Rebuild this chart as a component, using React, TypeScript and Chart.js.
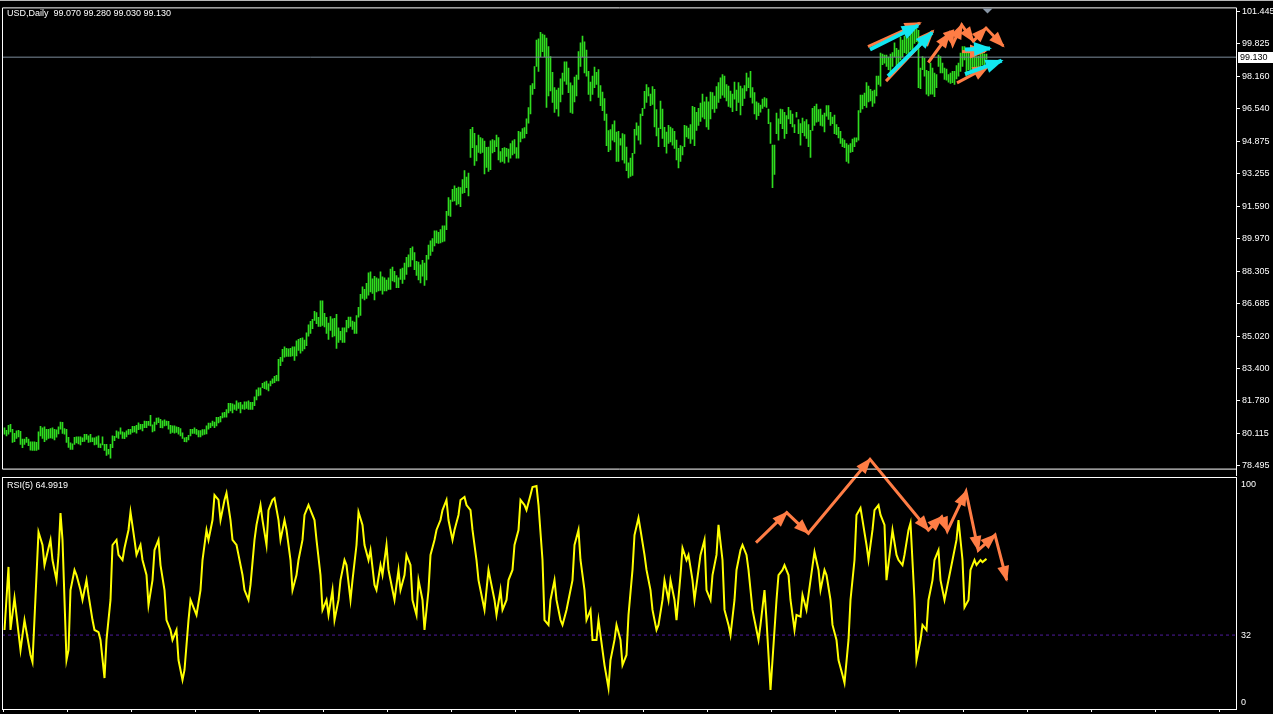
import React, { useEffect, useRef } from "react";
import { Chart, registerables } from "chart.js";

Chart.register(...registerables);

const symbolTitle = "USD,Daily  99.070 99.280 99.030 99.130";
const rsiTitle = "RSI(5) 64.9919";
const priceTicks = [101.445, 99.825, 98.16, 96.54, 94.875, 93.255, 91.59, 89.97, 88.305, 86.685, 85.02, 83.4, 81.78, 80.115, 78.495];
const rsiTicks = [100, 32, 0];
const rsiLevel = 32;
const lastPrice = 99.13;

const barHighs = [
  80.40,80.28,80.53,80.58,80.33,80.12,80.25,80.28,80.23,79.84,
  79.84,79.92,79.84,79.70,79.70,79.70,79.67,80.20,80.48,80.40,
  80.45,80.33,80.33,80.37,80.40,80.33,80.30,80.45,80.70,80.68,
  80.37,80.33,79.93,79.64,79.59,79.92,79.95,79.95,79.95,79.90,
  80.08,80.08,80.00,80.07,79.90,79.90,79.95,80.00,79.60,79.95,
  79.57,79.57,79.32,79.57,80.00,79.98,80.25,80.20,80.40,80.20,
  80.17,80.25,80.33,80.33,80.48,80.48,80.53,80.66,80.58,80.58,
  80.75,80.73,80.73,81.03,80.56,80.70,80.89,80.91,80.83,80.76,
  80.81,80.75,80.73,80.53,80.50,80.50,80.45,80.43,80.37,80.15,
  79.90,79.93,80.03,80.33,80.33,80.40,80.33,80.27,80.27,80.31,
  80.31,80.50,80.65,80.65,80.75,80.70,80.93,80.94,80.98,81.16,
  81.19,81.33,81.64,81.64,81.61,81.57,81.77,81.67,81.69,81.57,
  81.72,81.72,81.77,81.69,81.69,81.97,82.32,82.43,82.43,82.65,
  82.72,82.77,82.63,82.77,82.88,83.01,83.06,83.87,83.97,84.37,
  84.50,84.42,84.40,84.42,84.50,84.50,84.80,84.87,84.92,84.95,
  84.84,85.20,85.61,85.78,85.89,86.29,86.23,85.99,86.82,86.82,
  86.19,85.99,85.70,86.03,
  85.91,85.94,86.14,85.45,85.28,85.45,85.45,85.83,86.00,86.00,
  85.80,85.75,86.08,86.49,87.15,87.53,87.40,87.70,88.23,88.28,
  87.93,88.06,87.98,87.93,88.28,88.03,87.98,87.87,87.98,88.43,
  88.53,88.31,88.10,87.98,88.43,88.48,88.73,89.02,89.14,89.47,
  89.55,89.26,88.81,88.78,88.64,88.86,88.73,89.12,89.64,89.85,
  89.97,90.35,90.35,90.28,90.42,90.61,90.61,91.34,92.04,91.91,
  92.45,92.63,92.50,92.57,92.54,92.95,93.40,93.07,93.28,95.48,
  95.58,95.28,94.66,95.19,95.07,95.02,94.89,94.57,94.59,94.90,
  94.97,94.92,95.19,95.07,94.36,94.52,94.56,94.52,94.49,94.77,
  94.90,94.97,94.56,95.38,95.35,95.52,95.57,96.01,96.58,97.70,
  97.80,98.66,99.99,100.05,100.39,100.29,100.25,100.09,99.66,99.16,
  98.36,97.59,97.47,97.57,98.03,98.33,98.89,98.89,98.58,97.83,
  97.70,98.13,98.22,99.41,99.86,100.19,99.90,99.49,98.41,97.87,
  98.17,98.63,98.36,98.50,97.70,97.37,97.04,96.26,95.42,95.47,
  95.72,95.91,95.35,95.38,95.02,95.27,95.22,94.59,93.79,94.03,
  94.27,95.48,95.81,95.65,96.26,96.54,97.40,97.75,97.59,97.26,
  97.64,97.50,96.48,95.55,96.91,
  96.51,95.58,95.35,95.68,95.60,95.52,95.38,94.94,94.52,94.66,
  94.61,95.68,95.65,95.55,95.72,96.64,96.59,96.34,96.54,96.81,
  97.27,96.87,97.11,96.87,97.37,97.34,97.17,97.64,97.84,98.08,
  98.25,98.17,97.75,97.67,97.42,97.26,97.87,97.47,97.84,97.67,
  97.54,97.70,98.33,98.08,98.41,97.59,97.34,96.87,96.81,96.71,
  97.01,97.09,97.04,96.51,95.82,94.69,94.69,96.31,96.01,96.51,
  96.48,96.34,96.18,96.59,96.43,96.26,95.72,96.34,95.98,95.77,
  96.05,95.88,95.98,95.72,95.43,96.54,96.64,96.76,96.48,96.51,
  96.21,96.31,96.68,96.68,96.34,96.10,96.21,95.72,95.58,95.38,
  95.02,94.94,94.77,94.69,94.77,94.99,95.05,95.05,96.43,97.21,
  97.21,97.31,97.84,97.67,97.50,97.42,97.47,98.17,98.17,99.33,
  99.29,99.24,99.24,99.13,99.29,99.36,99.85,99.57,99.49,100.15,
  99.99,100.19,100.15,100.12,100.32,100.40,100.48,100.57,100.48,98.58,
  99.16,99.08,98.46,98.41,98.83,98.58,98.33,98.25,99.24,99.16,
  98.83,98.58,98.53,98.25,98.33,98.41,98.41,98.70,98.83,99.33,
  99.66,99.66,99.57,99.33,99.41,99.24,99.29,99.16,99.19,99.33,
  99.33,99.29,99.28,
];

const barLows = [
  80.08,80.00,80.08,80.20,79.67,79.70,79.87,79.95,79.57,79.40,
  79.57,79.67,79.50,79.27,79.26,79.26,79.26,79.31,80.00,79.87,
  79.70,79.79,79.87,79.90,79.87,79.79,79.93,80.10,80.33,80.12,
  80.08,79.67,79.42,79.31,79.31,79.57,79.64,79.59,79.54,79.70,
  79.72,79.82,79.67,79.69,79.70,79.54,79.57,79.42,79.40,79.54,
  79.26,79.01,79.07,78.87,79.40,79.75,79.92,79.87,80.08,79.87,
  79.85,79.95,80.07,80.08,80.17,80.20,80.13,80.31,80.33,80.25,
  80.41,80.41,80.53,80.50,80.20,80.25,80.58,80.66,80.41,80.40,
  80.50,80.53,80.33,80.12,80.17,80.13,80.17,80.08,80.00,79.87,
  79.70,79.69,79.79,80.00,80.12,80.12,80.07,79.95,79.95,80.03,
  80.07,80.10,80.33,80.41,80.50,80.41,80.50,80.65,80.70,80.91,
  80.94,80.94,81.16,81.26,81.16,81.33,81.28,81.39,81.16,81.36,
  81.33,81.38,81.34,81.33,81.33,81.52,81.82,82.02,82.05,82.43,
  82.38,82.35,82.27,82.52,82.65,82.68,82.77,82.77,83.54,83.76,
  83.97,84.01,84.01,84.01,84.04,83.81,84.04,84.31,84.17,84.29,
  84.39,84.55,85.03,85.17,85.41,85.83,85.66,85.53,85.53,85.58,
  85.50,85.17,84.87,85.33,
  85.00,85.05,84.42,84.72,84.84,84.72,84.72,85.25,85.45,85.53,
  85.38,85.17,85.17,86.00,86.08,86.94,86.87,86.94,87.10,87.27,
  87.20,86.87,87.27,87.32,87.35,87.15,87.32,87.32,87.40,87.40,
  87.82,87.77,87.48,87.48,87.90,87.70,87.90,88.15,88.53,88.56,
  88.89,88.40,88.10,87.87,87.73,88.06,87.60,87.87,88.93,89.11,
  89.31,89.59,89.75,89.72,89.75,89.79,89.84,90.42,91.13,91.08,
  91.84,91.87,91.67,91.71,91.58,92.24,92.29,92.54,92.12,94.06,
  94.56,93.66,93.89,94.32,94.27,94.32,93.23,93.56,93.36,93.45,
  94.29,94.36,94.61,93.94,93.83,93.86,93.78,94.11,93.83,94.03,
  94.19,94.27,94.03,94.03,94.85,95.02,95.05,95.27,95.80,96.26,
  97.25,97.54,98.66,98.41,99.16,99.41,99.16,96.59,97.17,97.42,
  96.84,96.34,96.51,96.15,96.87,97.25,97.92,97.75,97.34,96.34,
  96.29,96.87,97.17,98.00,98.66,99.16,98.33,98.17,97.25,96.92,
  97.25,97.59,97.75,97.09,96.68,96.43,95.93,94.66,94.36,94.44,
  94.94,94.85,93.86,93.86,94.69,93.94,93.78,93.40,93.03,93.11,
  93.16,94.27,95.19,94.94,94.74,96.18,96.54,96.84,97.17,96.68,
  96.74,95.60,95.15,94.61,95.52,
  95.02,94.61,94.28,94.77,94.85,94.69,94.52,93.94,93.53,93.86,
  94.19,94.61,95.10,95.02,94.77,94.99,94.66,95.43,95.68,95.88,
  96.10,96.01,95.60,95.48,96.01,96.51,96.34,96.54,96.84,97.04,
  97.21,97.09,96.92,96.64,96.59,96.38,97.01,96.43,96.84,96.21,
  96.68,97.04,97.42,97.59,97.09,96.81,96.26,95.98,96.18,96.35,
  96.54,96.64,96.59,95.77,94.77,92.54,93.20,95.27,94.94,95.77,
  95.52,95.02,95.27,96.01,95.77,95.60,95.32,96.10,95.27,94.69,
  95.32,95.15,95.02,94.61,94.06,95.43,95.68,95.85,95.88,95.68,
  95.65,95.35,96.15,95.98,95.68,95.77,95.27,95.22,95.05,94.77,
  94.61,94.56,93.86,93.78,94.32,94.36,94.61,94.85,94.94,96.34,
  96.51,96.68,96.59,96.87,96.92,96.64,96.81,97.17,97.75,97.67,
  98.75,98.83,98.66,98.50,98.41,98.66,99.16,98.58,98.75,98.99,
  99.16,99.36,99.29,99.33,99.49,99.49,99.82,99.91,97.59,97.54,
  98.50,98.17,97.26,97.17,97.26,97.26,97.14,97.59,98.66,98.33,
  98.33,98.00,97.97,97.87,97.80,97.84,97.75,98.03,98.17,98.41,
  98.66,98.99,98.17,98.50,98.50,98.41,98.58,98.41,98.50,98.66,
  98.75,98.66,99.03,
];

// RSI(5) readings: bar index and value
const rsiBar = [
  0,2,3,5,8,10,13,14,17,19,
  20,22,23,24,26,27,28,29,31,32,
  33,35,36,38,39,41,42,44,45,47,
  48,50,51,53,54,56,57,59,60,62,
  63,65,66,68,69,71,72,74,75,77,
  78,80,81,83,84,86,87,89,90,92,
  93,95,96,98,99,101,102,104,105,107,
  108,110,111,113,114,116,117,119,120,122,
  123,125,126,128,129,131,132,134,135,137,
  138,140,141,143,144,146,147,149,150,152,
  153,155,156,158,159,161,162,164,165,167,
  168,170,171,173,174,176,177,179,180,182,
  183,185,186,188,189,191,192,194,195,197,
  198,200,201,203,204,206,207,209,210,212,
  213,215,216,218,219,221,222,224,225,227,
  228,230,231,233,234,236,237,239,240,242,
  243,245,246,248,249,251,252,254,255,257,
  258,260,261,263,264,266,267,269,270,272,
  273,275,276,278,279,281,282,284,285,287,
  288,290,291,293,294,296,297,299,300,302,
  303,305,306,308,309,311,312,314,315,317,
  318,320,321,323,324,326,327,329,330,332,
  333,335,336,338,339,341,342,344,345,347,
  348,350,351,353,354,356,357,359,360,362,
  363,365,366,368,369,371,372,374,375,377,
  378,380,381,383,384,386,387,389,390,392,
  393,395,396,398,399,401,402,404,405,407,
  408,410,411,413,414,416,417,419,420,422,
  423,425,426,428,429,431,432,434,435,437,
  438,440,441,443,444,446,447,449,450,452,
  453,455,456,458,459,461,462,464,465,467,
  468,470,471,473,474,476,477,479,480,482,
  483,485,486,488,489,491,
];
const rsiVal = [
  34.2,61.5,34.2,48.1,25.5,38.5,23.4,20.3,76.6,71.0,
  62.3,69.7,73.2,64.5,55.8,66.7,84.8,73.2,21.2,25.5,
  51.5,60.2,58.0,51.5,47.2,55.8,49.4,38.5,34.2,33.3,
  29.9,13.4,29.9,47.2,71.0,73.2,66.7,64.5,69.7,77.5,
  85.3,73.2,66.7,71.0,64.5,58.0,45.0,55.8,68.8,73.2,
  62.3,51.5,38.5,34.2,29.9,34.2,21.2,12.6,16.9,38.5,
  47.2,42.9,40.7,51.5,64.5,77.5,73.2,81.8,92.6,90.5,
  81.8,90.5,93.5,81.8,73.2,71.0,66.7,58.0,51.5,47.2,
  53.7,73.2,79.7,88.3,81.8,71.0,86.1,90.5,91.3,81.8,
  73.2,81.8,77.5,64.5,51.5,58.0,64.5,73.2,84.0,88.3,
  86.1,81.8,73.2,58.0,42.9,47.2,40.7,51.5,38.5,47.2,
  55.8,64.5,62.3,47.2,55.8,71.0,85.3,79.7,71.0,64.5,
  68.8,53.7,51.5,62.3,58.0,71.0,60.2,51.5,47.2,60.2,
  51.5,58.0,66.7,62.3,47.2,40.7,55.8,47.2,34.2,51.5,
  66.7,73.2,77.5,81.8,86.1,90.5,81.8,73.2,77.5,84.0,
  90.5,91.8,88.3,86.1,77.5,64.5,55.8,47.2,42.9,60.2,
  55.8,47.2,40.7,51.5,42.9,47.2,55.8,60.2,71.0,77.5,
  90.5,88.3,86.1,92.6,96.1,96.5,88.3,64.5,38.5,36.4,
  47.2,55.8,47.2,38.5,36.4,42.9,47.2,55.8,71.0,77.5,
  64.5,51.5,38.5,42.9,29.9,29.9,38.5,25.5,19.0,9.1,
  21.2,29.9,36.4,29.9,19.0,23.4,40.7,60.2,75.3,82.7,
  77.5,66.7,60.2,51.5,42.9,34.2,36.4,47.2,55.8,47.2,
  55.8,47.2,38.5,58.0,69.7,64.5,66.7,55.8,47.2,60.2,
  66.7,73.2,51.5,47.2,58.0,66.7,79.7,64.5,42.9,36.4,
  32.0,47.2,60.2,68.8,71.0,66.7,60.2,42.9,38.5,29.9,
  36.4,51.5,38.5,8.2,21.2,47.2,58.0,60.2,62.3,58.0,
  47.2,34.2,40.7,40.0,49.4,42.9,49.4,62.0,68.0,60.2,
  51.5,60.2,58.0,47.2,36.4,29.9,21.2,14.7,11.3,29.9,
  47.2,64.5,84.0,87.0,81.8,71.0,64.5,77.5,86.1,88.3,
  84.0,79.7,55.8,70.0,77.5,66.7,64.5,62.3,66.7,77.5,
  80.5,47.2,21.2,29.9,36.4,34.2,47.2,55.8,64.5,68.8,
  55.8,47.2,51.5,60.2,64.5,73.2,81.8,64.5,44.0,47.2,
  60.2,64.5,62.3,64.5,63.6,65.0,
];

// Annotation arrows (bar index, price) on the price panel
const topZigIdx = [461.9, 472.4, 474.1, 478.6, 484.4, 490.75, 499.4];
const topZigPrice = [98.86, 100.32, 99.77, 100.76, 99.94, 100.6, 99.69];
const orangeArrowIdx = [[431.75, 457.75], [440.75, 464.25], [478.75, 490.25], [476.25, 491.75]];
const orangeArrowPrice = [[99.66, 100.85], [97.92, 100.45], [99.41, 99.41], [97.83, 98.66]];
const cyanArrowIdx = [[432.75, 456.75], [441.75, 463.75], [480.25, 492.75], [480.25, 498.6]];
const cyanArrowPrice = [[99.52, 100.73], [98.17, 100.37], [99.52, 99.57], [98.27, 98.95]];
// Annotation arrows (bar index, RSI) on the RSI panel
const rsiZigIdx = [375.75, 391.1, 401.9, 432.75, 461.9, 468.6, 471.4, 480.75, 486.9, 495.25, 501.1];
const rsiZigVal = [72.0, 85.0, 76.1, 108.1, 77.5, 83.2, 77.1, 94.1, 68.8, 75.3, 55.8];

const X_MIN = -1.25;
const X_MAX = 615.75;
const xTickValues = Array.from({ length: 20 }, (_, k) => -0.5 + 32 * k);

const GREEN = "#2fdc1f";
const ORANGE = "#ff7d45";
const CYAN = "#12e6f0";
const YELLOW = "#ffff00";
const SLATE = "#7d8c9c";
const LEVEL = "#4e1a9e";
const FONT = '9px "Liberation Sans", Arial, sans-serif';

const arrowHeadPlugin = {
  id: "arrowHeads",
  afterDatasetDraw(chart: any, args: any) {
    const ds: any = chart.data.datasets[args.index];
    if (!ds.arrowHead) return;
    const pts = args.meta.data;
    const ctx = chart.ctx;
    const L = ds.arrowHead.len;
    const H = ds.arrowHead.half;
    ctx.save();
    ctx.fillStyle = ds.borderColor;
    for (let j = 1; j < pts.length; j++) {
      const p0 = pts[j - 1];
      const p1 = pts[j];
      const a = Math.atan2(p1.y - p0.y, p1.x - p0.x);
      const c = Math.cos(a);
      const s = Math.sin(a);
      ctx.beginPath();
      ctx.moveTo(p1.x + c * 2, p1.y + s * 2);
      ctx.lineTo(p1.x - c * L - s * H, p1.y - s * L + c * H);
      ctx.lineTo(p1.x - c * L + s * H, p1.y - s * L - c * H);
      ctx.closePath();
      ctx.fill();
    }
    ctx.restore();
  },
};

const topDecor = {
  id: "topDecor",
  afterDraw(chart: any) {
    const { ctx, chartArea: a, scales } = chart;
    ctx.save();
    ctx.fillStyle = "#b8b8b8";
    ctx.fillRect(0, 0, chart.width, 1);
    ctx.strokeStyle = "#ffffff";
    ctx.lineWidth = 1;
    ctx.beginPath();
    ctx.moveTo(a.left + 0.5, a.bottom + 0.5);
    ctx.lineTo(a.left + 0.5, a.top + 0.5);
    ctx.lineTo(a.right + 0.5, a.top + 0.5);
    ctx.lineTo(a.right + 0.5, chart.height);
    ctx.moveTo(a.left + 0.5, a.bottom + 0.5);
    ctx.lineTo(a.right + 0.5, a.bottom + 0.5);
    ctx.stroke();
    ctx.font = FONT;
    ctx.textBaseline = "middle";
    ctx.textAlign = "left";
    ctx.fillStyle = "#ffffff";
    ctx.fillText(symbolTitle, 7, 14);
    const py = Math.round(scales.y.getPixelForValue(lastPrice));
    ctx.fillStyle = "#ffffff";
    ctx.fillRect(a.right + 2, py - 5, 35, 11);
    ctx.fillStyle = "#000000";
    ctx.fillText(lastPrice.toFixed(3), a.right + 4, py + 0.5);
    const tx = scales.x.getPixelForValue(barHighs.length - 1) + 1;
    ctx.fillStyle = "#8896a6";
    ctx.beginPath();
    ctx.moveTo(tx - 5, a.top + 1);
    ctx.lineTo(tx + 5, a.top + 1);
    ctx.lineTo(tx, a.top + 6);
    ctx.closePath();
    ctx.fill();
    ctx.restore();
  },
};

const botDecor = {
  id: "botDecor",
  afterDraw(chart: any) {
    const { ctx, chartArea: a, scales } = chart;
    ctx.save();
    ctx.strokeStyle = "#ffffff";
    ctx.lineWidth = 1;
    ctx.strokeRect(a.left + 0.5, a.top - 0.5, a.right - a.left, a.bottom - a.top + 1);
    ctx.font = FONT;
    ctx.textBaseline = "middle";
    ctx.textAlign = "left";
    ctx.fillStyle = "#ffffff";
    ctx.fillText(rsiTitle, 7, a.top + 8);
    rsiTicks.forEach((v) => {
      let y = scales.y.getPixelForValue(v);
      y = Math.min(Math.max(y, a.top + 6), a.bottom - 7);
      ctx.fillText(String(v), a.right + 5, y + 0.5);
    });
    ctx.restore();
  },
};

function lineDs(xs: number[], ys: number[], color: string, width: number, order: number, head?: any) {
  return {
    type: "line" as const,
    data: xs.map((x, k) => ({ x, y: ys[k] })),
    borderColor: color,
    backgroundColor: color,
    borderWidth: width,
    pointRadius: 0,
    fill: false,
    tension: 0,
    clip: false as any,
    order,
    arrowHead: head,
  };
}

export default function App() {
  const topRef = useRef<HTMLCanvasElement>(null);
  const botRef = useRef<HTMLCanvasElement>(null);

  useEffect(() => {
    const bars = barHighs.map((h, i) => ({ x: i, y: [barLows[i], h] }));
    const topDatasets: any[] = [
      {
        type: "bar",
        data: bars,
        backgroundColor: GREEN,
        borderWidth: 0,
        barThickness: 1,
        grouped: false,
        order: 10,
      },
      lineDs([X_MIN, X_MAX], [lastPrice, lastPrice], SLATE, 1, 9),
    ];
    orangeArrowIdx.forEach((xs, k) => topDatasets.push(lineDs(xs, orangeArrowPrice[k], ORANGE, 3, 4, { len: 15, half: 7 })));
    topDatasets.push(lineDs(topZigIdx, topZigPrice, ORANGE, 3, 3, { len: 14, half: 6 }));
    cyanArrowIdx.forEach((xs, k) => topDatasets.push(lineDs(xs, cyanArrowPrice[k], CYAN, 4, 2, { len: 16, half: 7 })));

    const top = new Chart(topRef.current as HTMLCanvasElement, {
      type: "bar",
      data: { datasets: topDatasets },
      options: {
        animation: false,
        responsive: false,
        devicePixelRatio: 1,
        events: [],
        layout: { padding: { left: 2, top: 5, right: 0, bottom: 2 } },
        plugins: { legend: { display: false }, tooltip: { enabled: false } },
        scales: {
          x: { type: "linear", display: false, min: X_MIN, max: X_MAX, offset: false },
          y: {
            type: "linear",
            position: "right",
            min: 78.344,
            max: 101.644,
            afterFit: (s: any) => {
              s.width = 37;
            },
            afterBuildTicks: (s: any) => {
              s.ticks = priceTicks.map((v) => ({ value: v }));
            },
            grid: { drawOnChartArea: false, drawTicks: true, tickLength: 4, color: "#ffffff" },
            border: { display: false },
            ticks: {
              color: "#ffffff",
              font: { family: '"Liberation Sans", Arial, sans-serif', size: 9 },
              padding: 2,
              autoSkip: false,
              callback: (v: any) => Number(v).toFixed(3),
            },
          },
        },
      } as any,
      plugins: [arrowHeadPlugin, topDecor],
    });

    const botDatasets: any[] = [
      lineDs([X_MIN, X_MAX], [rsiLevel, rsiLevel], LEVEL, 1, 9),
      {
        type: "line",
        data: rsiBar.map((x, k) => ({ x, y: rsiVal[k] })),
        borderColor: YELLOW,
        borderWidth: 2,
        pointRadius: 0,
        tension: 0,
        fill: false,
        order: 5,
      },
      lineDs(rsiZigIdx, rsiZigVal, ORANGE, 3, 1, { len: 14, half: 6 }),
    ];
    botDatasets[0].borderDash = [3, 3];

    const bot = new Chart(botRef.current as HTMLCanvasElement, {
      type: "line",
      data: { datasets: botDatasets },
      options: {
        animation: false,
        responsive: false,
        devicePixelRatio: 1,
        events: [],
        layout: { padding: { left: 2, top: 38, right: 0, bottom: 0 } },
        plugins: { legend: { display: false }, tooltip: { enabled: false } },
        scales: {
          x: {
            type: "linear",
            position: "bottom",
            min: X_MIN,
            max: X_MAX,
            offset: false,
            afterFit: (s: any) => {
              s.height = 5;
            },
            afterBuildTicks: (s: any) => {
              s.ticks = xTickValues.map((v) => ({ value: v }));
            },
            grid: { drawOnChartArea: false, drawTicks: true, tickLength: 3, color: "#ffffff" },
            border: { display: false },
            ticks: { display: false },
          },
          y: {
            type: "linear",
            position: "right",
            min: 0,
            max: 100,
            afterFit: (s: any) => {
              s.width = 37;
            },
            grid: { display: false },
            border: { display: false },
            ticks: { display: false },
          },
        },
      } as any,
      plugins: [arrowHeadPlugin, botDecor],
    });

    return () => {
      top.destroy();
      bot.destroy();
    };
  }, []);

  return (
    <div style={{ position: "fixed", left: 0, top: 0, width: 1273, height: 714, background: "#000", overflow: "hidden" }}>
      <canvas ref={topRef} width={1273} height={476} style={{ position: "absolute", left: 0, top: 0, width: 1273, height: 476 }} />
      <canvas ref={botRef} width={1273} height={274} style={{ position: "absolute", left: 0, top: 440, width: 1273, height: 274 }} />
    </div>
  );
}
